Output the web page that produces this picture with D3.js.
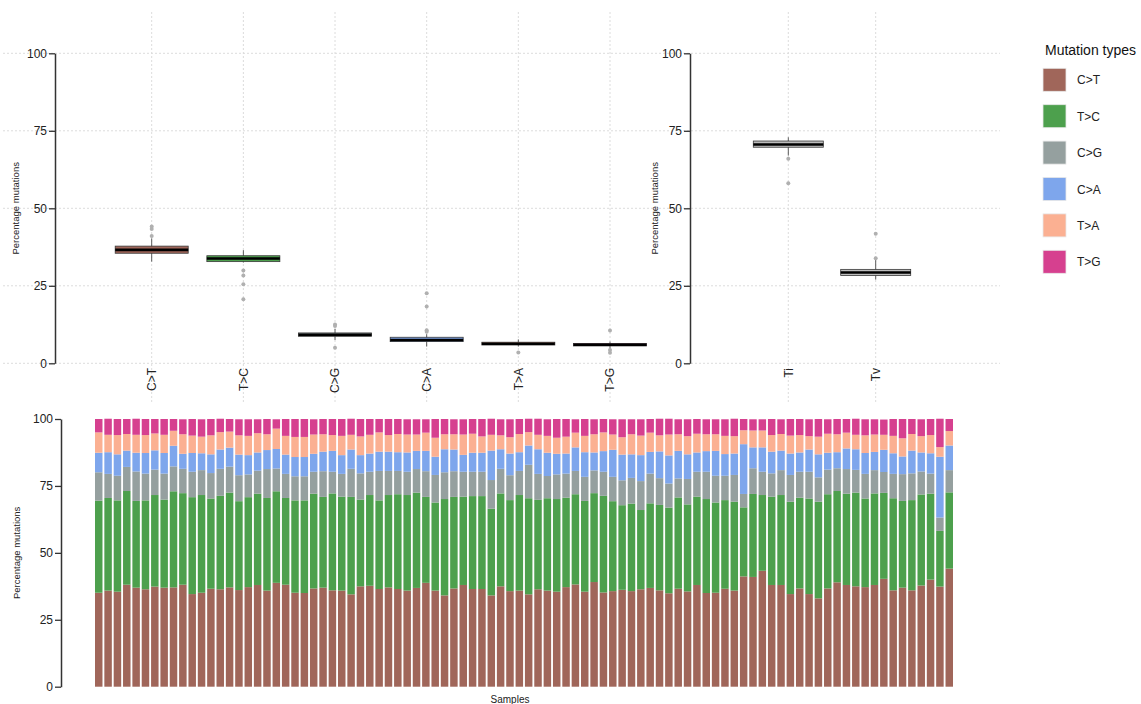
<!DOCTYPE html>
<html><head><meta charset="utf-8">
<script src="https://cdn.jsdelivr.net/npm/d3@7/dist/d3.min.js"></script>
<style>
body{margin:0;background:#fff}
svg{display:block;font-family:"Liberation Sans",Arial,Helvetica,sans-serif}
</style>
</head><body>
<svg id="chart" width="1141" height="704"></svg>
<script>
// ---------------- data ----------------
const mutationTypes = ["C>T","T>C","C>G","C>A","T>A","T>G"];
const typeColors = ["#A0665A","#4DA04D","#95A09F","#7EA6EC","#FBB092","#D6408F"];
const yTicks = [0,25,50,75,100];

// per-sample percentages (92 samples), one array per mutation type
const valsCT = [35.1,35.9,35.5,38.1,37.0,36.4,37.4,37.0,37.1,38.1,34.6,35.1,36.6,36.4,37.1,36.1,37.2,38.0,35.9,38.8,
  38.1,35.1,35.0,36.7,37.0,36.0,35.9,34.5,37.5,37.7,36.5,37.1,36.5,35.9,36.9,38.8,35.9,34.1,36.7,38.0,
  36.5,36.5,34.1,37.5,35.7,35.9,34.5,36.4,35.9,35.5,37.2,38.2,35.5,39.1,35.2,35.7,36.2,35.7,36.4,36.9,
  36.0,34.9,36.6,35.6,38.0,35.0,35.1,36.6,35.9,41.2,41.0,43.3,38.0,38.0,34.6,36.7,34.6,33.0,36.7,39.0,
  38.0,37.5,37.2,38.0,40.3,36.0,37.0,36.0,37.8,40.0,37.4,44.1];
const valsTC = [34.4,34.6,34.1,35.0,32.4,33.2,34.2,32.9,35.9,34.2,36.2,36.5,33.7,34.9,35.4,33.2,33.6,34.1,34.6,34.2,
  32.4,34.5,34.6,35.4,33.9,36.2,35.1,36.4,32.4,33.9,33.1,34.5,35.4,35.7,35.6,32.1,32.9,36.0,34.2,33.0,
  34.7,34.7,32.4,34.7,34.0,35.7,35.9,33.4,34.5,34.6,33.4,33.7,33.9,33.2,36.1,33.6,31.6,32.7,29.6,31.6,
  31.9,32.0,34.1,32.5,33.0,35.1,33.7,33.1,33.2,25.8,31.0,28.3,33.0,33.6,34.5,33.9,35.7,36.1,35.2,34.1,
  34.1,35.0,33.1,34.2,32.1,34.4,32.4,33.7,34.0,32.1,20.8,28.5];
const valsCG = [10.6,9.0,9.2,9.0,11.0,10.0,9.5,9.7,9.3,9.1,9.5,9.3,9.5,10.1,9.7,9.7,8.5,8.6,10.8,8.5,
  9.0,9.0,9.0,8.2,9.6,8.1,8.5,10.5,9.8,8.7,11.0,9.0,8.7,8.7,8.8,9.6,10.3,10.0,9.6,9.3,
  9.1,9.1,10.7,9.2,9.3,9.0,12.5,9.7,8.3,9.2,9.0,8.7,9.0,8.5,9.0,9.1,9.3,9.6,10.8,11.1,
  10.0,9.0,7.1,9.5,9.3,10.2,10.0,9.1,10.0,5.0,9.6,8.7,8.7,9.3,10.0,9.7,10.0,9.1,9.2,8.5,
  9.2,8.5,9.2,8.7,7.8,9.1,10.0,10.0,8.6,7.5,5.0,8.3];
const valsCA = [7.3,8.1,8.0,6.1,7.0,7.7,7.2,7.7,7.7,5.6,7.0,6.3,7.0,7.2,7.1,7.7,7.2,6.8,7.1,7.3,
  7.2,7.2,7.2,6.7,7.3,7.8,7.0,7.2,6.8,6.8,7.2,7.2,7.0,7.2,6.8,7.6,6.8,8.6,8.1,6.3,
  7.1,7.1,11.0,7.3,8.1,7.0,7.2,9.2,8.7,7.7,7.5,8.8,9.2,6.7,7.7,10.1,9.6,8.8,9.7,8.1,
  10.0,10.5,10.3,9.2,7.2,7.7,9.3,8.1,8.0,18.6,7.8,9.1,8.1,7.3,8.0,7.2,8.3,8.6,6.3,6.0,
  7.7,7.7,7.8,6.8,8.3,7.7,6.6,8.5,7.1,7.6,22.7,9.2];
const valsTA = [7.6,6.5,7.2,6.2,6.7,6.7,6.3,6.8,5.6,7.3,6.5,6.2,7.1,6.5,6.0,7.2,7.2,7.2,5.9,7.6,
  7.0,7.5,7.5,7.2,6.5,5.9,7.2,5.5,7.0,7.0,7.2,6.2,6.8,6.7,6.1,6.8,7.1,5.6,5.7,7.6,
  7.1,6.1,5.9,5.2,6.1,6.8,5.0,5.4,6.3,6.0,6.3,5.5,6.1,6.8,7.0,5.7,6.5,7.5,7.3,7.2,
  6.0,7.8,6.2,6.8,7.0,6.3,6.2,6.8,6.5,5.2,6.3,6.3,6.2,6.2,6.7,6.5,5.0,6.6,7.1,6.7,
  5.9,5.4,6.6,6.5,5.6,6.5,6.8,6.2,6.1,6.8,3.6,5.4];
const valsTG = [5.0,6.0,6.0,5.6,6.0,6.0,5.4,5.9,4.4,5.6,6.2,6.5,6.1,5.0,4.7,6.0,6.2,5.2,5.7,3.5,
  6.3,6.7,6.7,5.7,5.7,6.0,6.3,6.0,6.5,5.9,5.0,6.0,5.6,5.7,5.7,5.0,7.0,5.7,5.6,5.7,
  5.5,6.5,6.0,6.0,6.7,5.6,5.0,6.0,6.2,7.0,6.6,5.0,6.3,5.6,5.0,5.7,6.7,5.6,6.1,5.1,
  6.2,5.9,5.6,6.3,5.5,5.6,5.6,6.2,6.5,4.2,4.2,4.2,6.0,5.5,6.2,6.0,6.3,6.6,5.4,5.7,
  5.1,6.0,6.0,5.7,5.7,6.3,7.2,5.6,6.3,6.0,10.6,4.5];

// boxplot summaries: [whiskerLow, Q1, median, Q3, whiskerHigh]
const boxCT = [32.8,35.5,36.6,37.8,40.3], outCT = [41.1,43.3,44.1];
const boxTC = [32.5,32.8,33.8,34.7,36.5], outTC = [29.9,28.3,25.5,20.7];
const boxCG = [7.5,8.7,9.2,9.8,11.1],    outCG = [12.5,12.0,5.0];
const boxCA = [5.4,7.0,7.5,8.4,9.4],     outCA = [10.2,10.7,18.3,22.6];
const boxTA = [5.4,5.9,6.3,6.8,7.7],     outTA = [3.5];
const boxTG = [4.7,5.6,6.0,6.4,7.0],     outTG = [10.6,4.3,3.4];
const classes = ["Ti","Tv"];
const boxTi = [67.0,69.7,70.6,71.7,72.9], outTi = [66.0,58.1];
const boxTv = [27.0,28.3,29.3,30.3,33.3], outTv = [33.9,41.8];

// ---------------- drawing ----------------
const svg = d3.select("#chart");
const gridColor = "#dcdcdc", axisColor = "#333";

const seriesVals = [valsCT,valsTC,valsCG,valsCA,valsTA,valsTG];
const samples = d3.range(valsCT.length).map(i => "S" + (i+1));
const rows = samples.map((s,i) => {
  const r = {sample:s};
  mutationTypes.forEach((t,k) => r[t] = seriesVals[k][i]);
  return r;
});
const color = d3.scaleOrdinal(mutationTypes, typeColors);

// top panels y scale
const yTop = d3.scaleLinear().domain([0,100]).range([363.3,53.3]);

// horizontal grid (spans both top panels)
svg.append("g").selectAll("line").data(yTicks).join("line")
  .attr("x1",3).attr("x2",1000)
  .attr("y1",d=>yTop(d)).attr("y2",d=>yTop(d))
  .attr("stroke",gridColor).attr("stroke-width",1).attr("stroke-dasharray","2,2");

function boxPanel(cats, boxes, outs, fills, xRange, axisX, titleX, boxW) {
  const x = d3.scalePoint().domain(cats).range(xRange);
  // vertical grid
  svg.append("g").selectAll("line").data(cats).join("line")
    .attr("x1",d=>x(d)).attr("x2",d=>x(d)).attr("y1",12).attr("y2",402)
    .attr("stroke",gridColor).attr("stroke-width",1).attr("stroke-dasharray","2,2");
  // y axis
  const ax = svg.append("g").attr("transform",`translate(${axisX},0)`)
    .call(d3.axisLeft(yTop).tickValues(yTicks).tickSize(6).tickSizeOuter(0).tickPadding(2));
  ax.select(".domain").attr("stroke",axisColor).attr("stroke-width",1.5);
  ax.selectAll(".tick line").attr("stroke",axisColor).attr("stroke-width",1.3);
  ax.selectAll(".tick text").attr("font-size",12).attr("fill","#222").attr("font-family","inherit");
  // y title
  svg.append("text").attr("transform",`translate(${titleX},${yTop(50)}) rotate(-90)`)
    .attr("text-anchor","middle").attr("font-size",9.5).attr("fill","#222").text("Percentage mutations");
  // x labels
  svg.append("g").selectAll("text").data(cats).join("text")
    .attr("transform",d=>`translate(${x(d)+4.2},368) rotate(-90)`)
    .attr("text-anchor","end").attr("font-size",12).attr("fill","#222").text(d=>d);
  const g = svg.append("g");
  cats.forEach((c,i) => {
    const b = boxes[i], cx = x(c);
    // whisker
    g.append("line").attr("x1",cx).attr("x2",cx).attr("y1",yTop(b[0])).attr("y2",yTop(b[4]))
      .attr("stroke","#5a5a5a").attr("stroke-width",1);
    // outliers
    g.selectAll(null).data(outs[i]).join("circle")
      .attr("cx",cx).attr("cy",d=>yTop(d)).attr("r",2).attr("fill","#b0b0b0");
    // box
    g.append("rect").attr("x",cx-boxW/2).attr("width",boxW)
      .attr("y",yTop(b[3])).attr("height",Math.max(yTop(b[1])-yTop(b[3]),1))
      .attr("fill",fills[i]).attr("stroke","#3a3a3a").attr("stroke-width",0.8);
    // median
    g.append("line").attr("x1",cx-boxW/2).attr("x2",cx+boxW/2)
      .attr("y1",yTop(b[2])).attr("y2",yTop(b[2]))
      .attr("stroke","#000").attr("stroke-width",2.6);
  });
}

boxPanel(mutationTypes,[boxCT,boxTC,boxCG,boxCA,boxTA,boxTG],
  [outCT,outTC,outCG,outCA,outTA,outTG], typeColors, [151.7,610], 55, 19, 73);
boxPanel(classes,[boxTi,boxTv],[outTi,outTv],["#bdbdbd","#bdbdbd"],[788.3,875.7],690,658,70);

// legend
const lg = svg.append("g");
lg.append("text").attr("x",1045).attr("y",55).attr("font-size",14).attr("fill","#111").text("Mutation types");
mutationTypes.forEach((t,i) => {
  const y0 = 68.3 + i*36.4;
  lg.append("rect").attr("x",1043).attr("y",y0).attr("width",23).attr("height",23)
    .attr("fill",color(t)).attr("stroke","#e8e8e8").attr("stroke-width",0.8);
  lg.append("text").attr("x",1077).attr("y",y0+16).attr("font-size",12).attr("fill","#222").text(t);
});

// bottom stacked bars
const yB = d3.scaleLinear().domain([0,100]).range([686.7,419]);
const xB = d3.scaleBand().domain(samples).range([95,953]).paddingInner(0.2).paddingOuter(0);
const stack = d3.stack().keys(mutationTypes)(rows);
svg.append("g").selectAll("g").data(stack).join("g")
  .attr("fill",d=>color(d.key))
  .selectAll("rect").data(d=>d).join("rect")
  .attr("x",d=>xB(d.data.sample)).attr("width",xB.bandwidth())
  .attr("y",d=>yB(d[1])).attr("height",d=>yB(d[0])-yB(d[1]));

const axB = svg.append("g").attr("transform","translate(61,0)")
  .call(d3.axisLeft(yB).tickValues(yTicks).tickSize(6).tickSizeOuter(0).tickPadding(2));
axB.select(".domain").attr("stroke",axisColor).attr("stroke-width",1.5);
axB.selectAll(".tick line").attr("stroke",axisColor).attr("stroke-width",1.3);
axB.selectAll(".tick text").attr("font-size",12).attr("fill","#222").attr("font-family","inherit");
svg.append("text").attr("transform",`translate(20,${yB(50)}) rotate(-90)`)
  .attr("text-anchor","middle").attr("font-size",9.5).attr("fill","#222").text("Percentage mutations");
svg.append("text").attr("x",510).attr("y",703).attr("text-anchor","middle")
  .attr("font-size",10).attr("fill","#222").text("Samples");
</script>
</body></html>
